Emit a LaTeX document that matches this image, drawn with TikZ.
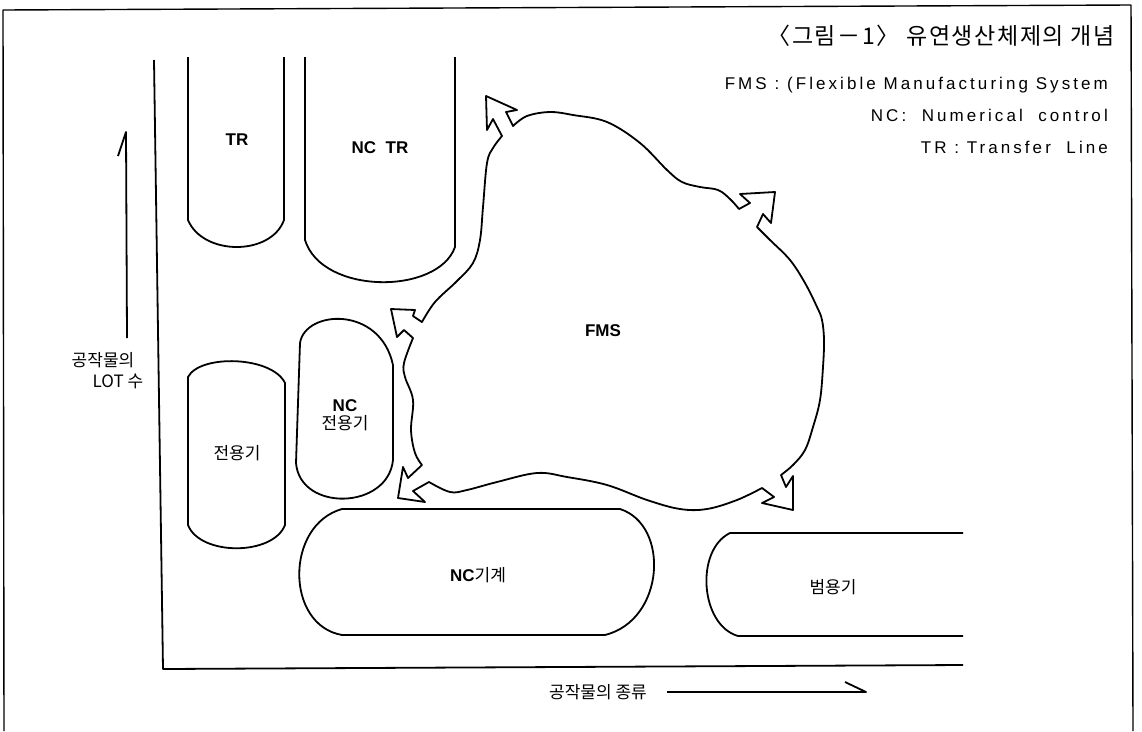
\documentclass[tikz,border=0pt]{standalone}
\usepackage{fontspec}
\setmainfont{Liberation Sans}
\newfontfamily\kr{Noto Sans CJK KR}
\newfontfamily\krtitle[LetterSpace=7]{Noto Sans CJK KR}
\newfontfamily\legfont[LetterSpace=18]{Liberation Sans}
\begin{document}
\begin{tikzpicture}[x=1pt,y=-1pt,line join=round,
  shapeline/.style={line width=1.8pt},
  lbl/.style={font=\fontsize{17}{20}\selectfont\bfseries, inner sep=0pt},
  krlbl/.style={font=\fontsize{17}{20}\selectfont\kr, inner sep=0pt},
  leg/.style={font=\fontsize{17}{18}\selectfont\legfont, anchor=east, inner sep=0pt}]
\useasboundingbox (0,0) rectangle (1142,731);
% frame
\draw[line width=1.4pt] (4,731) -- (3,10) -- (1131,5) -- (1133,731);
% title and legend
\node[anchor=east, font=\fontsize{23}{26}\selectfont\krtitle, inner sep=0pt] (title) at (1115,36) {〈그림－1〉 유연생산체제의 개념};
\node[leg] (lgfms) at (1108,85) {FMS : (Flexible Manufacturing System};
\node[leg] (lgnc) at (1108,115) {NC:\ \ Numerical\ \ control};
\node[leg] (lgtr) at (1108,147) {TR : Transfer\ \ Line};
% axes
\coordinate (ytop) at (154,60);
\coordinate (origin) at (163,669);
\coordinate (xright) at (963,665);
\draw[shapeline] (ytop) -- (origin) -- (xright);
% y label arrow
\coordinate (ya0) at (127,338);
\coordinate (ya1) at (126,132);
\draw[shapeline] (ya0) -- (ya1) -- ++(-8,24);
\node[krlbl] (ylab1) at (103,360) {공작물의};
\node[krlbl] (ylab2) at (118,381) {LOT 수};
% x label arrow
\node[krlbl] (xlab) at (598,692) {공작물의 종류};
\coordinate (xa0) at (667,692);
\coordinate (xa1) at (866,692);
\draw[shapeline] (xa0) -- (xa1) -- ++(-21,-10);
% TR
\draw[shapeline] (188,57) -- (188,220) .. controls (203,256) and (271,256) .. (284,220) -- (284,57);
\node[lbl] (tr) at (237,140) {TR};
% NC TR
\draw[shapeline] (305,57) -- (305,240) .. controls (322,295) and (438,295) .. (455,247) -- (455,57);
\node[lbl] (nctr) at (380,148) {NC\ \ TR};
% 전용기
\draw[shapeline] (188,377) .. controls (200,354) and (272,356) .. (285,383) -- (285,525)
  .. controls (273,556) and (200,556) .. (188,525) -- cycle;
\node[krlbl] (jy) at (237,453) {전용기};
% NC 전용기
\draw[shapeline] (300,343) .. controls (305,310) and (380,305) .. (393,365) -- (393,460)
  .. controls (388,510) and (300,512) .. (296,463) -- cycle;
\node[lbl, align=center] (ncjy) at (345,415) {NC\\[-2pt]{\kr\mdseries 전용기}};
% NC기계
\draw[shapeline] (342,509) -- (620,509) .. controls (670,525) and (665,620) .. (605,635)
  -- (342,635) .. controls (285,625) and (285,525) .. (342,509) -- cycle;
\node[lbl] (ncm) at (478,575) {NC{\kr\mdseries 기계}};
% 범용기
\draw[shapeline] (963,533) -- (730,533) .. controls (695,550) and (700,625) .. (738,636) -- (963,636);
\node[krlbl] (bum) at (833,587) {범용기};
% FMS blob
\draw[shapeline]
 plot[smooth,tension=0.6] coordinates {(513,126) (527,116) (550,112) (573,115) (607,122) (640,143) (667,170) (682,182) (700,187) (718,190) (730,199) (739,209)}
 -- (750,203) -- (740,194) -- (775,192) -- (771,223) -- (763,214) -- (757,227)
 -- plot[smooth,tension=0.6] coordinates {(757,227) (770,240) (790,260) (805,283) (817,307) (822,320) (824,340) (823,367) (820,400) (813,427) (805,450) (793,465) (781,475)}
 -- (786,487) -- (793,476) -- (793,510) -- (762,503) -- (774,497) -- (762,488)
 -- plot[smooth,tension=0.6] coordinates {(762,488) (737,500) (707,509) (680,509) (647,500) (607,485) (567,477) (537,473) (497,482) (467,490) (450,492) (429,482)}
 -- (413,491) -- (425,502) -- (398,498) -- (403,467) -- (408,478) -- (422,465)
 -- plot[smooth,tension=0.6] coordinates {(422,465) (415,453) (411,430) (413,400) (405,377) (404,363) (413,338)}
 -- (404,330) -- (397,337) -- (391,309) -- (415,310) -- (413,316) -- (422,322)
 -- plot[smooth,tension=0.6] coordinates {(422,322) (435,302) (457,281) (473,263) (480,240) (483,207) (487,163) (493,148) (502,136)}
 -- (493,119) -- (487,130) -- (486,96) -- (517,110) -- (506,112) -- cycle;
\node[lbl] (fms) at (603,331) {FMS};
\end{tikzpicture}
\end{document}
